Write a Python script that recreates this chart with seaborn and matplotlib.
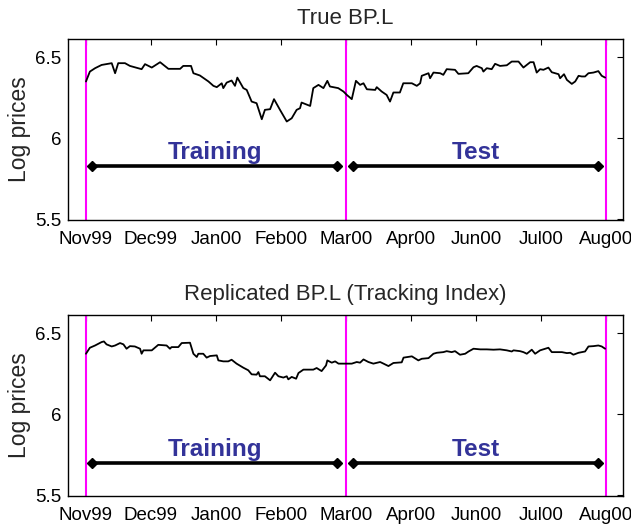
import matplotlib
matplotlib.use("Agg")
import matplotlib.pyplot as plt
import seaborn as sns

# ---- data ----
true_day = [0, 1.5, 3.5, 6, 9.9, 11.2, 12.4, 15, 16.9, 21.4, 22.7, 25.3, 28.5, 31.7,
            36.2, 37.4, 40.4, 41.3, 43.8, 47.1, 49, 50.3, 52.2, 52.8, 54.1, 56, 57.3,
            58.2, 60.5, 61.8, 63.7, 65.6, 67.6, 68.8, 70.8, 72.3, 74.6, 77.2, 79.1, 81,
            82.3, 82.9, 86.2, 87.4, 89.4, 91.3, 92.8, 93.8, 97, 99, 100.3, 102.2, 103.8,
            105.4, 106.7, 108, 111.2, 111.8, 113.7, 115.6, 116.9, 118.2, 120.7, 122,
            125.3, 127.2, 128.5, 129.1, 131.7, 132.3, 133.6, 136.2, 137.4, 138.7, 141.9,
            143.2, 147, 149, 150.2, 152.2, 152.8, 154.1, 156, 157.3, 159.2, 161.8, 163.7,
            166.3, 168.2, 170.8, 172.1, 173.3, 174.6, 175.9, 177.8, 179.1, 181.7, 182.3,
            183.8, 184.9, 186.8, 188.1, 189.4, 190.6, 191.9, 193.2, 195.1, 197, 198.3, 199.6]
true_bp = [6.350, 6.411, 6.432, 6.452, 6.463, 6.401, 6.463, 6.463, 6.446, 6.426, 6.457,
           6.436, 6.469, 6.428, 6.428, 6.446, 6.446, 6.401, 6.387, 6.350, 6.323, 6.315,
           6.339, 6.309, 6.343, 6.356, 6.323, 6.374, 6.309, 6.298, 6.226, 6.216, 6.117,
           6.175, 6.179, 6.241, 6.175, 6.103, 6.123, 6.175, 6.185, 6.220, 6.199, 6.309,
           6.329, 6.309, 6.354, 6.319, 6.309, 6.288, 6.267, 6.241, 6.354, 6.329, 6.339,
           6.302, 6.298, 6.315, 6.288, 6.267, 6.226, 6.282, 6.282, 6.339, 6.339, 6.323,
           6.339, 6.385, 6.401, 6.370, 6.405, 6.401, 6.391, 6.426, 6.422, 6.397, 6.401,
           6.438, 6.446, 6.432, 6.411, 6.432, 6.426, 6.459, 6.446, 6.450, 6.473, 6.473,
           6.436, 6.469, 6.469, 6.405, 6.426, 6.422, 6.436, 6.407, 6.395, 6.370, 6.395,
           6.360, 6.335, 6.350, 6.385, 6.381, 6.381, 6.401, 6.405, 6.414, 6.385, 6.374]

repl_day = [0, 1.5, 3.5, 6, 6.9, 7.9, 9.9, 11.2, 13.1, 14.4, 15.6, 16.9, 18.8, 20.8, 21.4,
            22.1, 25.3, 27.8, 31, 32.3, 32.9, 35.5, 36.8, 40, 41.3, 42.6, 43.2, 45.1, 46.4,
            47.7, 50.3, 50.9, 52.8, 54.7, 56, 57.9, 60.5, 62.4, 63.7, 65.6, 66.3, 66.9,
            68.8, 70.8, 72.7, 74, 75.9, 77.2, 77.8, 79.1, 80.8, 81.7, 83.6, 87.4, 88.7,
            90.6, 92.3, 92.8, 94.5, 95.8, 97.1, 100.3, 102.2, 104.1, 105.4, 106.7, 108.6,
            110.5, 113.1, 114.4, 116.3, 118.2, 121.4, 122.1, 125.3, 127.8, 129.1, 131.7,
            133.6, 134.9, 137.4, 138.7, 140.6, 141.9, 143.8, 145.8, 147.1, 149, 151.6,
            154.1, 156.7, 159.2, 161.8, 163.7, 164.4, 166.9, 168.2, 169.5, 171.4, 172.7,
            174.6, 177.8, 179.1, 183, 184.9, 186.2, 187.4, 189.4, 191.9, 193.2, 195.1,
            197, 198.3, 199.6]
repl_bp = [6.373, 6.410, 6.424, 6.445, 6.449, 6.431, 6.418, 6.424, 6.439, 6.431, 6.404,
           6.420, 6.418, 6.404, 6.373, 6.394, 6.394, 6.428, 6.424, 6.404, 6.414, 6.414,
           6.439, 6.441, 6.373, 6.353, 6.373, 6.373, 6.349, 6.359, 6.363, 6.332, 6.326,
           6.326, 6.336, 6.312, 6.287, 6.271, 6.246, 6.244, 6.260, 6.234, 6.234, 6.209,
           6.256, 6.234, 6.226, 6.234, 6.215, 6.230, 6.219, 6.254, 6.275, 6.275, 6.285,
           6.266, 6.301, 6.332, 6.318, 6.326, 6.312, 6.312, 6.312, 6.322, 6.318, 6.338,
           6.322, 6.312, 6.322, 6.312, 6.297, 6.316, 6.320, 6.349, 6.357, 6.332, 6.342,
           6.346, 6.373, 6.379, 6.383, 6.389, 6.383, 6.389, 6.367, 6.373, 6.387, 6.404,
           6.400, 6.400, 6.398, 6.400, 6.394, 6.387, 6.394, 6.389, 6.383, 6.373, 6.398,
           6.373, 6.394, 6.410, 6.383, 6.383, 6.377, 6.379, 6.367, 6.379, 6.387, 6.418,
           6.420, 6.424, 6.418, 6.404]

tick_days = [0, 25, 50, 75, 100, 125, 150, 175, 200]
tick_labels = ["Nov99", "Dec99", "Jan00", "Feb00", "Mar00", "Apr00", "Jun00", "Jul00", "Aug00"]
split_days = [0, 100, 200]
train_span = [2.5, 96.5]
test_span = [102.7, 196.9]
span_level = [5.829, 5.697]   # arrow height, top / bottom panel
titles = ["True BP.L", "Replicated BP.L (Tracking Index)"]

sns.set_style("white")
plt.rcParams["font.family"] = ["Liberation Sans", "DejaVu Sans"]

fig = plt.figure(figsize=(6.31, 5.26), dpi=100)
axes = [fig.add_axes([0.1078, 0.5817, 0.8796, 0.3441]),
        fig.add_axes([0.1078, 0.0570, 0.8796, 0.3441])]

series = [(true_day, true_bp), (repl_day, repl_bp)]

for i, ax in enumerate(axes):
    d, v = series[i]
    for s in split_days:
        ax.axvline(s, color="#ff00ff", lw=1.5, zorder=1)
    sns.lineplot(x=d, y=v, ax=ax, color="black", linewidth=1.3, zorder=3)

    lvl = span_level[i]
    for span, label in [(train_span, "Training"), (test_span, "Test")]:
        ax.plot(span, [lvl, lvl], color="black", lw=2.6, marker="D", markersize=5, zorder=4)
        ax.text(sum(span) / 2, lvl + 0.085, label, ha="center", va="center",
                fontsize=17.5, fontweight="bold", color="#333399")

    ax.set_xlim(-6.9, 206.5)
    ax.set_ylim(5.495, 6.612)
    ax.set_xticks(tick_days)
    ax.set_xticklabels(tick_labels)
    ax.set_yticks([5.5, 6, 6.5])
    ax.set_yticklabels(["5.5", "6", "6.5"])
    ax.tick_params(direction="in", length=4, width=0.8, top=True, right=True,
                   labelsize=13.5, colors="black")
    ax.tick_params(axis="x", pad=8)
    ax.tick_params(axis="y", pad=5)
    for sp in ax.spines.values():
        sp.set_color("black")
        sp.set_linewidth(1.0)
    ax.set_ylabel("Log prices", fontsize=16.5, labelpad=3)
    ax.set_xlabel("")
    ax.set_title(titles[i], fontsize=16, pad=11)

fig.savefig("out.png", dpi=100)
